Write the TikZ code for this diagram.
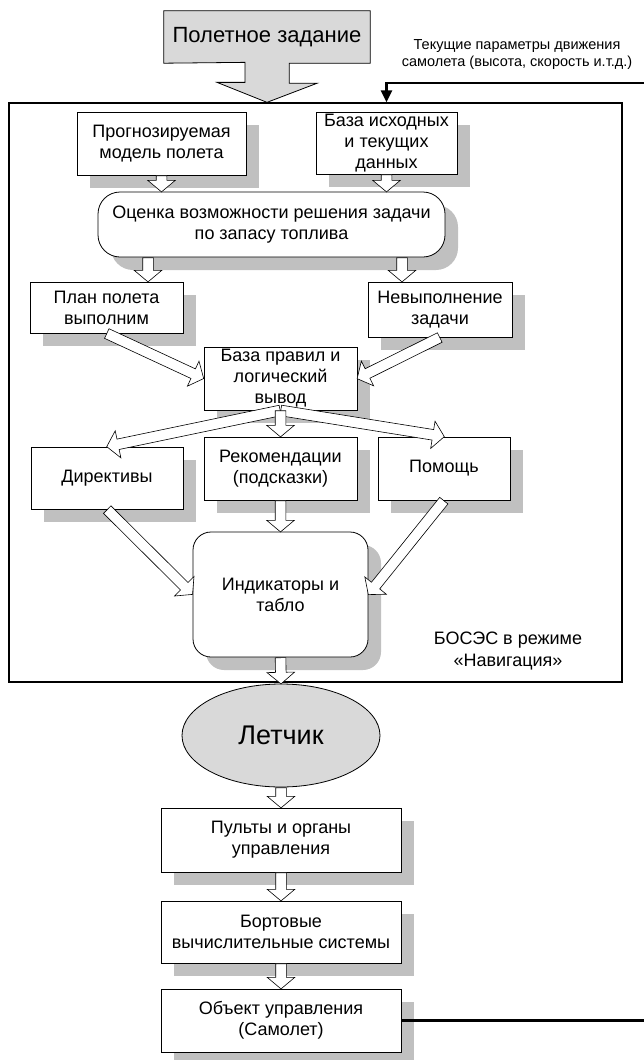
\documentclass[tikz,border=0pt]{standalone}
\usepackage{fontspec}
\setmainfont{Liberation Sans}
\usepackage{xcolor}
\definecolor{shgray}{RGB}{192,192,192}
\definecolor{tkgray}{RGB}{217,217,217}
\usetikzlibrary{arrows.meta,calc,shapes.arrows,shapes.geometric,shadows,backgrounds}
\newcommand{\flowarrow}[2]{%
  \path let \p1=($#2-#1$), \n1={veclen(\x1,\y1)}, \n2={atan2(\y1,\x1)} in
    node[barrow, minimum height=\n1, rotate=\n2, anchor=tail] at #1 {};}

\begin{document}
\begin{tikzpicture}[x=1pt, y=-1pt, every node/.style={font=\fontsize{18}{21}\selectfont, align=center, inner sep=1pt},
  bx/.style={draw, fill=white, line width=0.8pt, general shadow={fill=shgray, shadow xshift=13pt, shadow yshift=-13pt}},
  barrow/.style={single arrow, draw, fill=white, line width=0.6pt, inner xsep=0pt, inner ysep=5pt,
    single arrow head extend=8.5pt, single arrow tip angle=100, single arrow head indent=0pt},
  fb/.style={line width=2.3pt}]
\useasboundingbox (0,0) rectangle (643,1060);
% Frame
\node[draw, line width=1.3pt, minimum width=613, minimum height=579] (bosis) at (315.5,392.5) {};
\node (bosestxt) at (508,651) {БОСЭС в режиме\\«Навигация»};
% Task
\node[font=\fontsize{22}{25}\selectfont, minimum width=206, minimum height=52] (task) at (267,37) {Полетное задание};
\begin{scope}[on background layer]
\draw[fill=tkgray, line width=0.8pt] (task.south west) -- (task.north west) -- (task.north east) -- (task.south east)
  -- ++(-81,0) -- ++(0,20) -- ++(28,0) -- (task.south |- bosis.north) -- ++(-50,-20) -- ++(28,0) -- ++(0,-20) -- cycle;
\end{scope}
\node[font=\fontsize{14.5}{17}\selectfont] (curpar) at (517,55) {Текущие параметры движения\\самолета (высота, скорость и.т.д.)};
% Upper blocks
\node[bx, minimum width=169, minimum height=63] (progn) at (161.5,143.5) {Прогнозируемая\\модель полета};
\node[bx, minimum width=141, minimum height=62] (bazaisx) at (386.5,143) {База исходных\\и текущих\\данных};
\node[bx, rounded corners=22pt, minimum width=347, minimum height=65] (ocenka) at (271.5,224.5) {Оценка возможности решения задачи\\по запасу топлива};
\node[bx, minimum width=153, minimum height=51] (plan) at (106.5,307.5) {План полета\\выполним};
\node[bx, minimum width=144, minimum height=55] (nevyp) at (440,309.5) {Невыполнение\\задачи};
\node[bx, minimum width=153, minimum height=63] (rules) at (280.5,378.5) {База правил и\\логический\\вывод};
% Outputs
\node[bx, minimum width=152, minimum height=62] (direct) at (107,478) {Директивы};
\node[bx, minimum width=153, minimum height=63] (rekom) at (280.5,468.5) {Рекомендации\\(подсказки)};
\node[bx, minimum width=132, minimum height=63] (pomosch) at (444,468.5) {Помощь};
\node[bx, rounded corners=18pt, minimum width=175, minimum height=125] (ind) at (280.5,594.5) {Индикаторы и\\табло};
% Pilot and aircraft
\node[ellipse, draw, line width=0.8pt, fill=tkgray, minimum width=198, minimum height=103, font=\fontsize{27}{30}\selectfont] (letchik) at (281,735.5) {Летчик};
\node[bx, minimum width=240, minimum height=64] (pult) at (281,840) {Пульты и органы\\управления};
\node[bx, minimum width=240, minimum height=62] (bort) at (281,932) {Бортовые\\вычислительные системы};
\node[bx, minimum width=240, minimum height=63] (obj) at (281,1020.5) {Объект управления\\(Самолет)};
% Arrows
\flowarrow{(progn.south)}{(progn.south |- ocenka.north)}
\flowarrow{(bazaisx.south)}{(bazaisx.south |- ocenka.north)}
\flowarrow{([xshift=-123.5pt]ocenka.south)}{([xshift=41.5pt]plan.north)}
\flowarrow{([xshift=130.5pt]ocenka.south)}{([xshift=-38pt]nevyp.north)}
\flowarrow{(plan.south)}{(rules.west)}
\flowarrow{(nevyp.south)}{(rules.east)}
\flowarrow{(rules.south)}{(direct.north)}
\flowarrow{(rules.south)}{(pomosch.north)}
\flowarrow{(rules.south)}{(rekom.north)}
\flowarrow{(direct.south)}{(ind.west)}
\flowarrow{(rekom.south)}{(ind.north)}
\flowarrow{(pomosch.south)}{(ind.east)}
\flowarrow{(ind.south)}{(letchik.north)}
\flowarrow{(letchik.south)}{(pult.north)}
\flowarrow{(pult.south)}{(bort.north)}
\flowarrow{(bort.south)}{(obj.north)}
% Feedback
\coordinate (fbr) at (647,83);
\draw[fb, -{Triangle[length=12pt,width=11pt]}] (obj.east) -- (obj.east -| fbr) -- (fbr) -- (fbr -| bazaisx.north) -- (bazaisx.north |- bosis.north);
\end{tikzpicture}
\end{document}
